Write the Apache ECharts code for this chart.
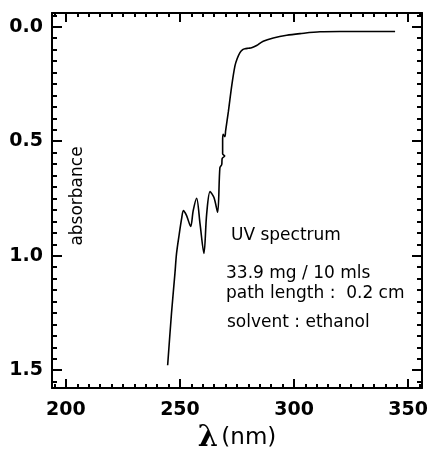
<!DOCTYPE html>
<html><head><meta charset="utf-8">
<script src="https://cdn.jsdelivr.net/npm/echarts@6/dist/echarts.min.js"></script>
<style>html,body{margin:0;padding:0;background:#fff}#c{width:435px;height:458px}</style>
</head><body><div id="c"></div>
<script>
const wavelength = [244.6, 246.3, 247.8, 248.5, 249.7, 250.7, 251.5, 252.9, 254.7, 255.8, 257.3, 258.8, 260.5, 261.7, 263.2, 264.9, 266.5, 267.5, 268.3, 268.5, 269.6, 268.7, 268.7, 268.9, 269.7, 270.0, 271.2, 272.7, 274.1, 275.1, 276.3, 277.5, 278.5, 280.0, 281.4, 283.6, 286.5, 290.9, 296.8, 302.6, 311.4, 320.0, 344.3];
const absorbance = [1.478, 1.249, 1.076, 0.99, 0.904, 0.839, 0.803, 0.825, 0.872, 0.803, 0.749, 0.861, 0.99, 0.818, 0.72, 0.746, 0.81, 0.616, 0.602, 0.575, 0.565, 0.555, 0.50, 0.47, 0.48, 0.455, 0.372, 0.257, 0.171, 0.139, 0.113, 0.10, 0.096, 0.094, 0.092, 0.082, 0.063, 0.049, 0.037, 0.030, 0.022, 0.021, 0.021];
const xTickLabels = [200, 250, 300, 350];
const yTickLabels = [0, 0.5, 1.0, 1.5];
const annotationLines = ['UV spectrum', '33.9 mg / 10 mls', 'path length :  0.2 cm', 'solvent : ethanol'];
const yLabelText = 'absorbance';

const xMinor = []; for (let v = 195; v <= 355; v += 5) xMinor.push(v);
const yMinor = []; for (let i = -1; i <= 31; i++) yMinor.push(+(i * 0.05).toFixed(2));

const FONT = '"DejaVu Sans", sans-serif';
const line = { lineStyle: { color: '#000', width: 2 } };
const X_MIN = 193.9, X_MAX = 356.1, Y_MIN = -0.06, Y_MAX = 1.578;

function xAx(pos, major, showLine, showLabel) {
  return {
    type: 'value', position: pos, min: X_MIN, max: X_MAX, offset: 0,
    axisLine: { show: showLine, onZero: false, ...line },
    axisTick: { show: true, inside: true, length: major ? 9 : 4, customValues: major ? xTickLabels : xMinor, lineStyle: { color: '#000', width: 2 } },
    axisLabel: showLabel ? { customValues: xTickLabels, color: '#000', fontFamily: FONT, fontSize: 19, fontWeight: 'bold', margin: 12 } : { show: false },
    splitLine: { show: false }
  };
}
function yAx(pos, major, showLine, showLabel) {
  return {
    type: 'value', position: pos, inverse: true, min: Y_MIN, max: Y_MAX, offset: 0,
    axisLine: { show: showLine, onZero: false, ...line },
    axisTick: { show: true, inside: true, length: major ? 10 : 5, customValues: major ? yTickLabels : yMinor, lineStyle: { color: '#000', width: 2 } },
    axisLabel: showLabel ? { customValues: yTickLabels, color: '#000', fontFamily: FONT, fontSize: 19, fontWeight: 'bold', margin: 9, formatter: v => v.toFixed(1) } : { show: false },
    splitLine: { show: false }
  };
}

const xAxes = [xAx('bottom', true, true, true), xAx('bottom', false, false, false), xAx('top', true, true, false), xAx('top', false, false, false)];
xAxes[0].name = '{l|λ} {n|(nm)}';
xAxes[0].nameLocation = 'middle';
xAxes[0].nameGap = 32;
xAxes[0].nameTextStyle = { rich: { l: { fontFamily: '"DejaVu Serif", serif', fontWeight: 'bold', fontSize: 29, color: '#000' }, n: { fontFamily: FONT, fontSize: 23, color: '#000' } } };

const yAxes = [yAx('left', true, true, true), yAx('left', false, false, false), yAx('right', true, true, false), yAx('right', false, false, false)];

const annY = [236, 274, 294, 323];
const annX = [231, 226, 226, 227];
const graphics = annotationLines.map((t, i) => ({
  type: 'text', x: annX[i], y: annY[i],
  style: { text: t, font: '17px "DejaVu Sans"', fill: '#000', verticalAlign: 'middle', align: 'left' }
}));
graphics.push({ type: 'text', x: 78, y: 196, rotation: Math.PI / 2,
  style: { text: yLabelText, font: '17px "DejaVu Sans"', fill: '#000', verticalAlign: 'middle', align: 'center' } });

const chart = echarts.init(document.getElementById('c'), null, { renderer: 'canvas' });
chart.setOption({
  animation: false,
  backgroundColor: '#fff',
  grid: { left: 52, right: 13, top: 13, bottom: 65, containLabel: false },
  xAxis: xAxes,
  yAxis: yAxes,
  graphic: graphics,
  series: [{
    type: 'line', xAxisIndex: 0, yAxisIndex: 0,
    data: wavelength.map((w, i) => [w, absorbance[i]]),
    showSymbol: false, smooth: 0.3,
    lineStyle: { color: '#000', width: 1.6 }
  }]
});
</script>
</body></html>
